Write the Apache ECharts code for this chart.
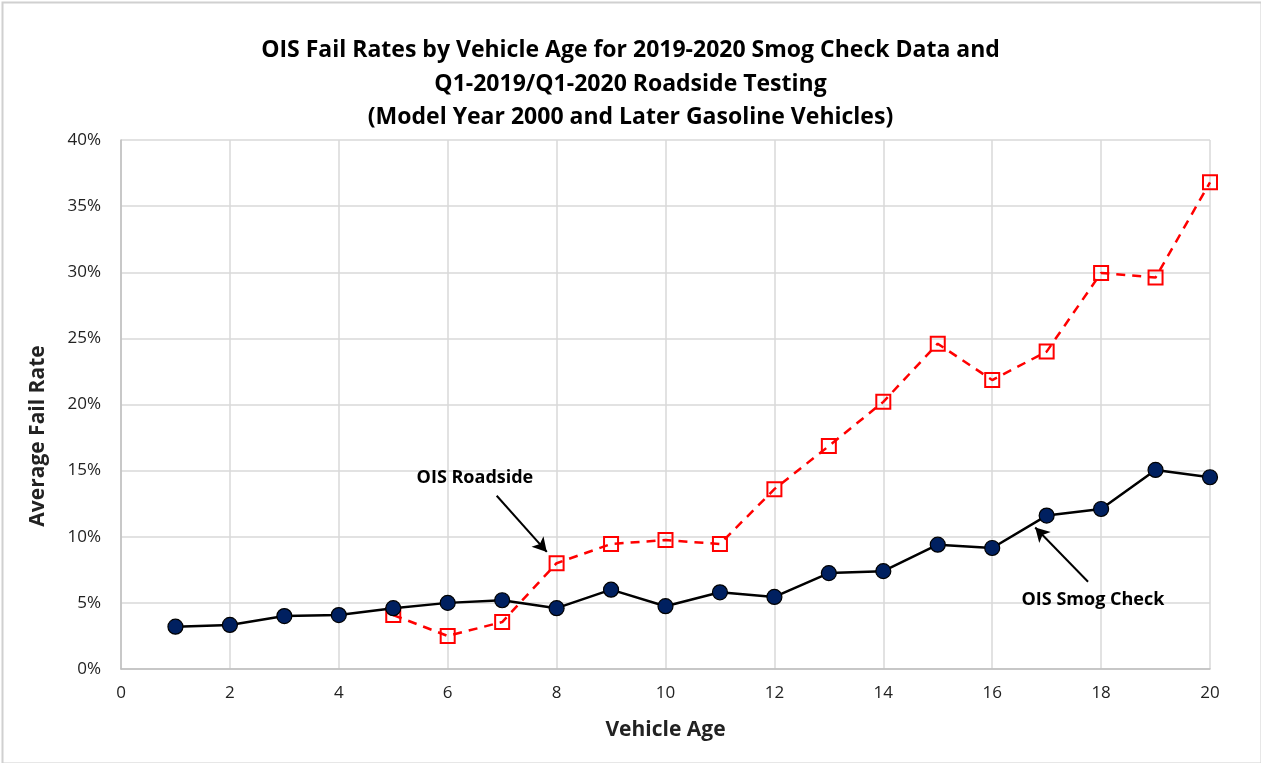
<!DOCTYPE html>
<html><head><meta charset="utf-8">
<script src="https://cdn.jsdelivr.net/npm/echarts@6/dist/echarts.min.js"></script>
<style>html,body{margin:0;padding:0;background:#fff}#c{width:1261px;height:763px}</style>
</head><body><div id="c"></div>
<script>
var ages = [1,2,3,4,5,6,7,8,9,10,11,12,13,14,15,16,17,18,19,20];
var smogCheck = [3.2,3.33,4.0,4.08,4.6,5.0,5.2,4.6,6.0,4.75,5.8,5.45,7.25,7.4,9.4,9.15,11.6,12.1,15.05,14.5];
var roadsideAges = [5,6,7,8,9,10,11,12,13,14,15,16,17,18,19,20];
var roadside = [4.08,2.5,3.55,8.0,9.45,9.75,9.45,13.6,16.86,20.2,24.6,21.85,24.0,29.95,29.6,36.8];
var yTicks = [0,5,10,15,20,25,30,35,40];
var xTicks = [0,2,4,6,8,10,12,14,16,18,20];
var titleLines = ['OIS Fail Rates by Vehicle Age for 2019-2020 Smog Check Data and','Q1-2019/Q1-2020 Roadside Testing','(Model Year 2000 and Later Gasoline Vehicles)'];

var font = '"Open Sans", "Liberation Sans", sans-serif';
var chart = echarts.init(document.getElementById('c'));
var option = {
  backgroundColor: '#fff',
  animation: false,
  title: {
    text: titleLines.join('\n'),
    left: 'center', top: 29,
    textStyle: {fontFamily: font, fontWeight: 'bold', fontSize: 23, lineHeight: 33.5, color: '#000'}
  },
  grid: {left: 121, right: 51, top: 140, bottom: 94},
  xAxis: {
    type: 'value', min: 0, max: 20, interval: 2,
    name: 'Vehicle Age', nameLocation: 'middle', nameGap: 51,
    nameTextStyle: {fontFamily: font, fontWeight: 'bold', fontSize: 21, color: '#222'},
    axisLine: {show: true, lineStyle: {color: '#bfbfbf', width: 1.5}},
    axisTick: {show: false},
    axisLabel: {fontFamily: font, fontSize: 17, color: '#222', margin: 16},
    splitLine: {show: true, lineStyle: {color: '#d9d9d9', width: 1.5}}
  },
  yAxis: {
    type: 'value', min: 0, max: 40, interval: 5,
    axisLine: {show: true, lineStyle: {color: '#bfbfbf', width: 1.5}},
    axisTick: {show: false},
    axisLabel: {fontFamily: font, fontSize: 17, color: '#222', margin: 20, formatter: function(v){return v + '%';}},
    splitLine: {show: true, lineStyle: {color: '#d9d9d9', width: 1.5}}
  },
  series: [
    {
      name: 'OIS Smog Check', type: 'line',
      data: ages.map(function(a,i){return [a, smogCheck[i]];}),
      symbol: 'circle', symbolSize: 15,
      lineStyle: {color: '#000', width: 2.5},
      itemStyle: {color: '#002060', borderColor: '#000', borderWidth: 1.2},
      z: 3
    },
    {
      name: 'OIS Roadside', type: 'line',
      data: roadsideAges.map(function(a,i){return [a, roadside[i]];}),
      symbol: 'rect', symbolSize: 14,
      lineStyle: {color: '#ff0000', width: 2.5, type: [9,7]},
      itemStyle: {color: 'rgba(255,255,255,0)', borderColor: '#ff0000', borderWidth: 2},
      z: 2,
      markLine: {
        silent: true, symbol: ['none','arrow'], symbolSize: [12,14],
        label: {show: false},
        lineStyle: {color: '#000', width: 2, type: 'solid'},
        data: [
          [{coord: [6.9, 13.1]}, {coord: [7.82, 8.85]}],
          [{coord: [17.76, 6.6]}, {coord: [16.79, 10.7]}]
        ]
      }
    }
  ]
};
chart.setOption(option);
function place(){
  var p1 = chart.convertToPixel({gridIndex:0}, [6.5, 14.44]);
  var p2 = chart.convertToPixel({gridIndex:0}, [17.85, 5.2]);
  chart.setOption({graphic: [
    {type:'rect', left:0, top:0, shape:{x:0,y:0,width:1259,height:761}, style:{fill:'none', stroke:'#d0d0d0', lineWidth:2}, silent:true},
    {type:'text', x:38, y:436, rotation: Math.PI/2, style:{text:'Average Fail Rate', fontFamily:font, fontWeight:'bold', fontSize:21, fill:'#222', align:'center', verticalAlign:'middle'}},
    {type:'text', x:p1[0], y:p1[1], style:{text:'OIS Roadside', fontFamily:font, fontWeight:'bold', fontSize:18, fill:'#000', align:'center', verticalAlign:'middle'}},
    {type:'text', x:p2[0], y:p2[1], style:{text:'OIS Smog Check', fontFamily:font, fontWeight:'bold', fontSize:18, fill:'#000', align:'center', verticalAlign:'middle'}}
  ]});
}
place();
</script></body></html>
